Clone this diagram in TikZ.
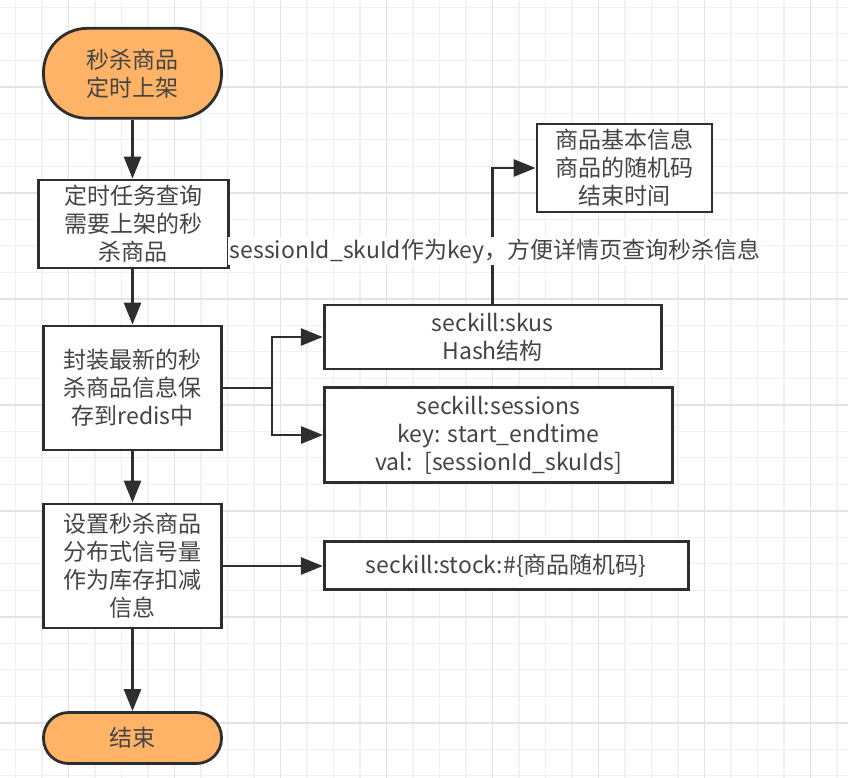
\documentclass[tikz,border=0pt]{standalone}
\usepackage{fontspec}
\setmainfont{Noto Sans CJK SC}
\usetikzlibrary{arrows.meta}
\definecolor{ln}{HTML}{2E2E2E}
\definecolor{txt}{HTML}{444444}
\definecolor{org}{HTML}{FFB366}
\definecolor{gminor}{HTML}{F1F1F1}
\definecolor{gmajor}{HTML}{E3E3E3}
\begin{document}
\begin{tikzpicture}[x=1pt,y=-1pt,
  base/.style={draw=ln, line width=2.8pt, align=center, text=txt,
    font=\fontsize{23}{28}\selectfont, inner sep=0pt},
  box/.style={base, fill=white},
  term/.style={base, fill=org},
  arr/.style={draw=ln, line width=2.8pt, -{Triangle[length=22pt,width=17pt]}},
  lbl/.style={fill=white, text=txt, font=\fontsize{23}{28}\selectfont, inner sep=2pt}
]
\useasboundingbox (0,0) rectangle (848,778);
\fill[white] (0,0) rectangle (848,778);
\begin{scope}
\clip (0,0) rectangle (848,778);
\foreach \k in {0,...,31} \draw[gminor, line width=1.2pt] ({15.5+26.5*\k},0) -- ({15.5+26.5*\k},778);
\foreach \k in {0,...,29} \draw[gminor, line width=1.2pt] (0,{7.2+26.5*\k}) -- (848,{7.2+26.5*\k});
\foreach \k in {0,...,7} \draw[gmajor, line width=1.8pt] ({68.5+106*\k},0) -- ({68.5+106*\k},778);
\foreach \k in {0,...,6} \draw[gmajor, line width=1.8pt] (0,{86.7+106*\k}) -- (848,{86.7+106*\k});
\end{scope}

\node[term, rounded corners=44pt, minimum width=178pt, minimum height=90pt] (start) at (132.5,73.3) {秒杀商品\\定时上架};
\node[box, minimum width=190pt, minimum height=88pt] (query) at (133.3,224) {定时任务查询\\需要上架的秒\\杀商品};
\node[box, minimum width=178pt, minimum height=124pt] (save) at (132.5,388) {封装最新的秒\\杀商品信息保\\存到redis中};
\node[box, minimum width=178pt, minimum height=124pt] (sem) at (132.5,566) {设置秒杀商品\\分布式信号量\\作为库存扣减\\信息};
\node[term, rounded corners=25pt, minimum width=178pt, minimum height=51pt] (fin) at (132.5,738) {结束};

\node[box, minimum width=175pt, minimum height=88pt] (info) at (624.5,168) {商品基本信息\\商品的随机码\\结束时间};
\node[box, minimum width=337pt, minimum height=64pt] (skus) at (492.7,337) {seckill:skus\\Hash结构};
\node[box, minimum width=348pt, minimum height=95pt] (sess) at (498.5,435) {seckill:sessions\\key: start\_endtime\\val:~ [sessionId\_skuIds]};
\node[box, minimum width=364pt, minimum height=48pt] (stock) at (506.3,565.5) {seckill:stock:\#\{商品随机码\}};

\coordinate (br) at (272,388);

\draw[arr] (start.south) -- (start.south |- query.north);
\draw[arr] (save.north |- query.south) -- (save.north);
\draw[arr] (save.south) -- (sem.north);
\draw[arr] (sem.south) -- (fin.north);
\draw[arr] (save.east) -- (br) |- (skus.west);
\draw[arr] (br) |- (sess.west);
\draw[arr] (sem.east) -- (sem.east -| stock.west);
\draw[arr] (skus.north) |- (info.west);

\node[lbl] (keylbl) at (495,251) {sessionId\_skuId作为key，方便详情页查询秒杀信息};
\end{tikzpicture}
\end{document}
